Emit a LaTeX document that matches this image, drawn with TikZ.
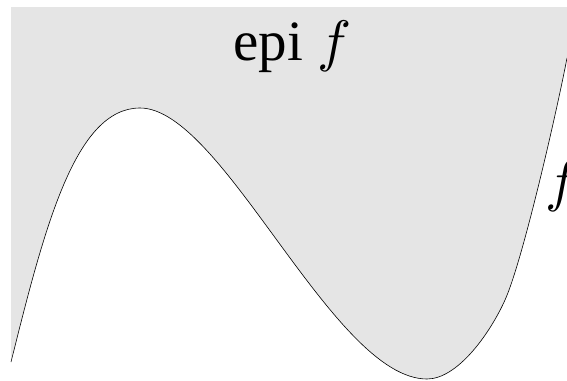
\documentclass[tikz,border=0pt]{standalone}
\usepackage{graphicx}
\usepackage{fontspec}
\setmainfont{Liberation Serif}
\newcommand{\bigf}{\scalebox{5.7}{\fontsize{10}{12}\selectfont$f$}}
\begin{document}
\begin{tikzpicture}[x=1pt,y=-1pt,
  epi/.style={fill=black!10},
  graph/.style={draw=black,line width=0.6pt},
  lbl/.style={inner sep=0pt,anchor=base west,font=\fontsize{57}{60}\selectfont}]
\useasboundingbox (0,0) rectangle (567,380);
\def\curvepath{(11,362) .. controls (44.6,227.6) and (75,108) .. (140,108)
  .. controls (223,108) and (333,379) .. (427,379)
  .. controls (457,379) and (489.2,335) .. (505,300)
  .. controls (523,260) and (557.5,108) .. (567,58)}
\fill[epi] \curvepath -- (567,7) -- (11,7) -- cycle;
\draw[graph] \curvepath;
\node[lbl] (epi) at (233,60) {epi \bigf};
\node[lbl] (flab) at (545,200) {\bigf};
\end{tikzpicture}
\end{document}
